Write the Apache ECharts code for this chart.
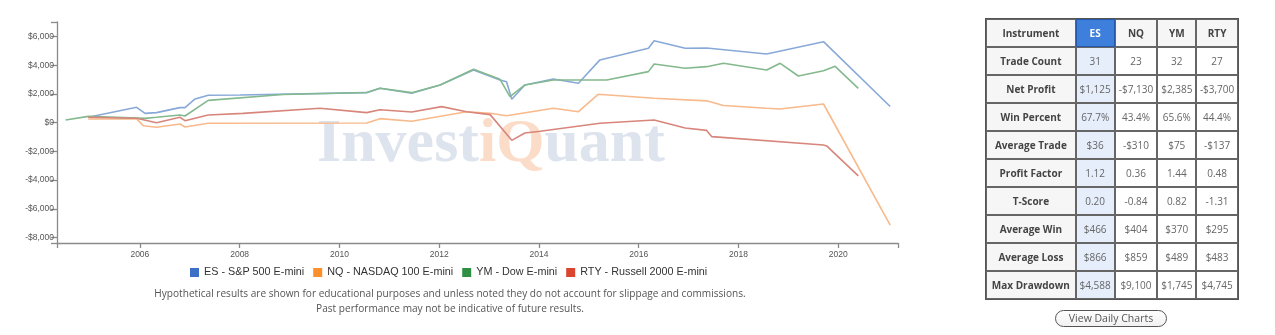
<!DOCTYPE html>
<html>
<head>
<meta charset="utf-8">
<script src="https://cdn.jsdelivr.net/npm/echarts@6/dist/echarts.min.js"></script>
<style>
  html, body { margin: 0; padding: 0; background: #fff; }
  #wrap { position: relative; width: 1275px; height: 335px; overflow: hidden; }
  #chart { position: absolute; left: 0; top: 0; width: 1275px; height: 335px; }
  #stats {
    position: absolute; left: 985px; top: 18px; width: 254px; height: 280px;
    border-collapse: separate; border-spacing: 0; border: 1px solid #555;
    font-family: "Open Sans", sans-serif; font-size: 10px; table-layout: fixed;
  }
  #stats td { border: 1px solid #666; text-align: center; padding: 0; color: #666; height: 26px; white-space: nowrap; }
  #stats td.lbl { font-weight: bold; color: #444; background: #f6f6f6; }
  #stats tr.head td { font-weight: bold; color: #444; background: #f6f6f6; }
  #stats td.sel { background: #e6eefb; }
  #stats tr.head td.sel { background: #3f7fdc; color: #fff; border-color: #2857a8; }
  #btn {
    position: absolute; left: 1055px; top: 310px; width: 110px; height: 15px;
    border: 1.5px solid #555; border-radius: 9px; background: linear-gradient(#fff, #f1f1f1);
    font-family: "Open Sans", sans-serif; font-size: 10.5px; color: #555; text-align: center; line-height: 15px;
  }
</style>
</head>
<body>
<div id="wrap">
  <div id="chart"></div>
  <table id="stats"></table>
  <div id="btn">View Daily Charts</div>
</div>
<script>
// Cumulative profit curves, one per futures contract
const esDates = ['2004-12-19','2005-12-08','2006-02-08','2006-05-03','2006-10-21','2006-11-27','2007-02-09','2007-05-16','2008-01-04','2010-07-19','2010-10-25','2011-06-14','2012-01-08','2012-09-09','2013-03-22','2013-05-09','2013-06-16','2013-09-20','2014-04-16','2014-10-17','2015-03-23','2016-03-12','2016-04-23','2016-12-07','2017-05-13','2018-07-26','2019-09-15','2021-01-16'];
const esValues = [375,1070,650,700,1045,1045,1650,1910,1930,2090,2395,2050,2625,3670,2975,2855,1630,2625,3045,2745,4370,5180,5710,5180,5200,4785,5640,1125];

const nqDates = ['2004-12-19','2005-12-08','2006-01-26','2006-05-03','2006-10-21','2006-11-27','2007-05-16','2010-07-19','2010-10-25','2011-06-14','2012-07-20','2013-01-09','2013-05-09','2014-04-16','2014-10-17','2015-03-10','2016-04-23','2017-05-13','2017-09-13','2018-07-26','2018-11-02','2019-09-15','2021-01-16'];
const nqValues = [260,260,-210,-320,-90,-300,-40,-20,280,100,765,650,480,1000,765,1975,1700,1520,1200,1000,955,1300,-7130];

const ymDates = ['2004-07-06','2004-12-19','2006-02-08','2006-05-03','2006-10-21','2006-11-27','2007-05-16','2008-11-14','2010-07-19','2010-10-25','2011-06-14','2012-01-08','2012-09-09','2013-03-22','2013-06-03','2013-09-20','2014-04-16','2015-05-12','2016-03-12','2016-04-23','2016-12-07','2017-05-13','2017-09-13','2018-07-26','2018-11-02','2019-03-15','2019-09-15','2019-12-09','2020-05-27'];
const ymValues = [190,440,300,375,535,465,1550,1960,2100,2400,2090,2625,3720,3020,1810,2625,2975,2975,3555,4090,3790,3900,4135,3670,4135,3250,3620,3920,2385];

const rtyDates = ['2004-12-19','2005-12-08','2006-05-03','2006-10-21','2006-11-27','2007-05-16','2008-01-25','2009-08-12','2010-07-19','2010-10-25','2011-06-14','2012-01-19','2012-07-20','2013-01-09','2013-06-16','2013-09-20','2014-01-10','2015-03-23','2016-04-23','2016-12-07','2017-05-13','2017-06-20','2019-09-15','2019-10-08','2020-05-27'];
const rtyValues = [375,305,0,375,140,535,650,1000,700,900,740,1115,765,560,-1230,-720,-600,-45,190,-370,-540,-975,-1555,-1620,-3700];

const seriesNames = ['ES - S&P 500 E-mini','NQ - NASDAQ 100 E-mini','YM - Dow E-mini','RTY - Russell 2000 E-mini'];

// Axis ticks
const yearTicks = [2006, 2008, 2010, 2012, 2014, 2016, 2018, 2020];
const yTicks = [-8000, -6000, -4000, -2000, 0, 2000, 4000, 6000];
const xStart = '2004-05-04', xEnd = '2021-03-14';
const yMin = -8380, yMax = 7010;

// Statistics table
const instruments = ['ES', 'NQ', 'YM', 'RTY'];
const statLabels = ['Trade Count','Net Profit','Win Percent','Average Trade','Profit Factor','T-Score','Average Win','Average Loss','Max Drawdown'];
const esStats  = ['31','$1,125','67.7%','$36','1.12','0.20','$466','$866','$4,588'];
const nqStats  = ['23','-$7,130','43.4%','-$310','0.36','-0.84','$404','$859','$9,100'];
const ymStats  = ['32','$2,385','65.6%','$75','1.44','0.82','$370','$489','$1,745'];
const rtyStats = ['27','-$3,700','44.4%','-$137','0.48','-1.31','$295','$483','$4,745'];

const disclaimer1 = 'Hypothetical results are shown for educational purposes and unless noted they do not account for slippage and commissions.';
const disclaimer2 = 'Past performance may not be indicative of future results.';

// ---- table ----
(function buildTable() {
  const cols = [esStats, nqStats, ymStats, rtyStats];
  const widths = [88, 38, 42, 38, 41];
  const t = document.getElementById('stats');
  const cg = document.createElement('colgroup');
  widths.forEach(w => { const c = document.createElement('col'); c.style.width = w + 'px'; cg.appendChild(c); });
  t.appendChild(cg);
  const head = document.createElement('tr');
  head.className = 'head';
  const h0 = document.createElement('td'); h0.textContent = 'Instrument'; head.appendChild(h0);
  instruments.forEach((n, i) => {
    const td = document.createElement('td'); td.textContent = n;
    if (i === 0) td.className = 'sel';
    head.appendChild(td);
  });
  t.appendChild(head);
  statLabels.forEach((lab, r) => {
    const tr = document.createElement('tr');
    const l = document.createElement('td'); l.className = 'lbl'; l.textContent = lab; tr.appendChild(l);
    cols.forEach((col, i) => {
      const td = document.createElement('td'); td.textContent = col[r];
      if (i === 0) td.className = 'sel';
      tr.appendChild(td);
    });
    t.appendChild(tr);
  });
})();

// ---- chart ----
// dates are placed on a continuous axis measured in fractional years
function decimalYear(s) {
  const [y, m, d] = s.split('-').map(Number);
  const start = Date.UTC(y, 0, 1), next = Date.UTC(y + 1, 0, 1);
  return y + (Date.UTC(y, m - 1, d) - start) / (next - start);
}
const pairs = (d, v) => d.map((x, i) => [decimalYear(x), v[i]]);
const money = v => (v < 0 ? '-' : '') + '$' + Math.abs(v).toLocaleString('en-US');

const lineColors = ['#88a9d8', '#f8b98b', '#84b98e', '#d8867b'];
const keyColors = ['#3c70c6', '#ff8f2a', '#2f8f45', '#d9452e'];
const seriesData = [pairs(esDates, esValues), pairs(nqDates, nqValues), pairs(ymDates, ymValues), pairs(rtyDates, rtyValues)];
const xMin = decimalYear(xStart), xMax = decimalYear(xEnd);

const axisLineStyle = { color: '#8a8a8a', width: 1.3 };
const chart = echarts.init(document.getElementById('chart'), null, { renderer: 'canvas' });
chart.setOption({
  animation: false,
  grid: { left: 57, right: 377, top: 22, bottom: 92, outerBoundsMode: 'none' },
  xAxis: {
    type: 'value',
    min: xMin, max: xMax,
    splitLine: { show: false },
    axisLine: { show: true, onZero: false, lineStyle: axisLineStyle },
    axisTick: { show: true, length: 5, lineStyle: axisLineStyle, customValues: [xMin].concat(yearTicks, [xMax]) },
    axisLabel: { customValues: yearTicks, formatter: v => String(Math.round(v)),
      fontFamily: 'Liberation Sans', fontSize: 8.5, color: '#555', margin: 7 }
  },
  yAxis: {
    type: 'value',
    min: yMin, max: yMax,
    splitLine: { show: false },
    axisLine: { show: true, onZero: false, lineStyle: axisLineStyle },
    axisTick: { show: true, length: 6, lineStyle: axisLineStyle, customValues: yTicks.concat([yMin, yMax]) },
    axisLabel: { customValues: yTicks, formatter: money,
      fontFamily: 'Liberation Sans', fontSize: 8.5, color: '#555', margin: 3 }
  },
  legend: {
    left: 185, top: 262,
    itemWidth: 9, itemHeight: 9, itemGap: 9,
    icon: 'rect',
    textStyle: { fontFamily: 'Liberation Sans', fontSize: 10.8, color: '#333' },
    data: seriesNames
  },
  graphic: [
    {
      type: 'text', left: 317, top: 114, z: 0, silent: true,
      style: {
        text: '{a|Invest}{b|iQ}{a|uant}',
        rich: {
          a: { fontFamily: 'Liberation Serif', fontWeight: 'bold', fontSize: 62, fill: '#dee4ed' },
          b: { fontFamily: 'Liberation Serif', fontWeight: 'bold', fontSize: 62, fill: '#fbdcc8' }
        }
      }
    },
    { type: 'text', x: 450, y: 289, silent: true,
      style: { text: disclaimer1, align: 'center', fontFamily: 'Open Sans', fontSize: 10.1, fill: '#555' } },
    { type: 'text', x: 450, y: 304, silent: true,
      style: { text: disclaimer2, align: 'center', fontFamily: 'Open Sans', fontSize: 10.1, fill: '#555' } }
  ],
  series: seriesNames.map((name, i) => ({
    name, type: 'line', data: seriesData[i], showSymbol: false, symbol: 'none', z: 3,
    itemStyle: { color: keyColors[i] },
    lineStyle: { color: lineColors[i], width: 1.6 }
  }))
});
</script>
</body>
</html>
